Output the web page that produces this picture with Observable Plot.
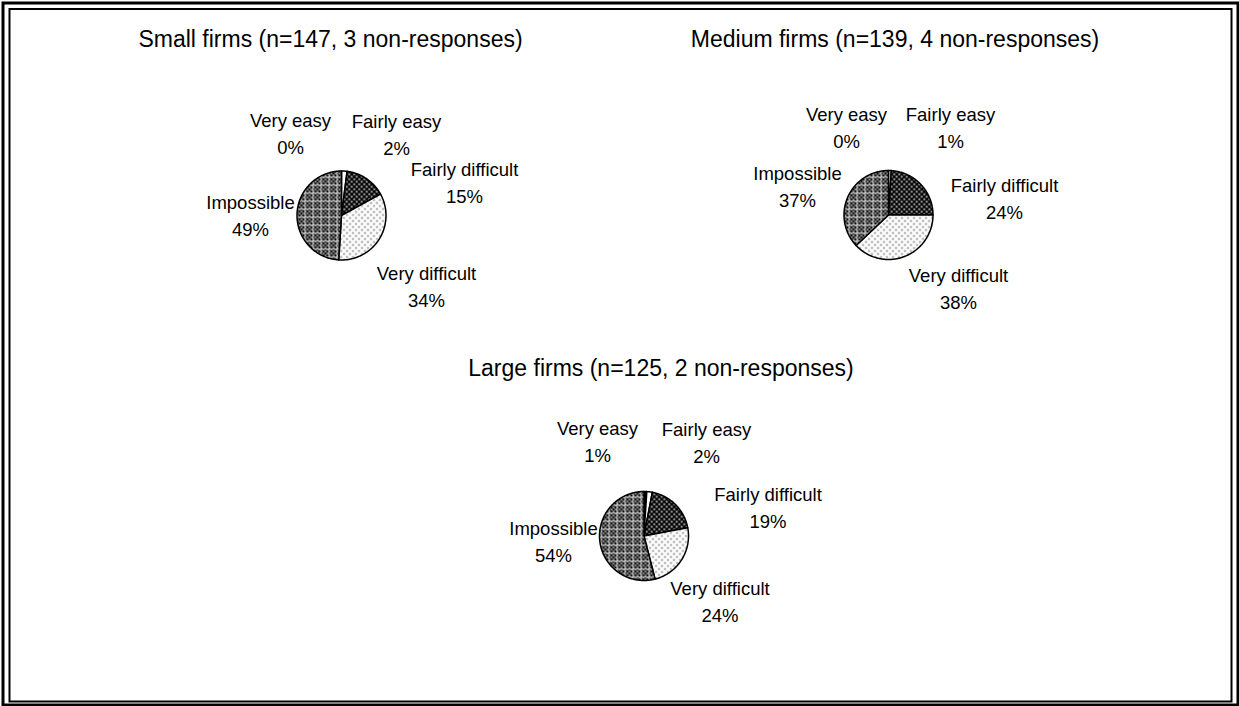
<!DOCTYPE html>
<html>
<head>
<meta charset="utf-8">
<script src="https://cdn.jsdelivr.net/npm/d3@7"></script>
<script src="https://cdn.jsdelivr.net/npm/@observablehq/plot@0.6"></script>
<style>
  html, body { margin: 0; padding: 0; background: #fff; }
  svg { display: block; }
</style>
</head>
<body>
<div id="chart"></div>
<script>
// Ease of recruitment, by firm size (share of responses)
const categories = ["Very easy", "Fairly easy", "Fairly difficult", "Very difficult", "Impossible"];
const smallFirms  = [0, 2, 15, 34, 49];
const mediumFirms = [0, 1, 24, 38, 37];
const largeFirms  = [1, 2, 19, 24, 54];
const panelTitles = [
  "Small firms (n=147, 3 non-responses)",
  "Medium firms (n=139, 4 non-responses)",
  "Large firms (n=125, 2 non-responses)"
];

// Page layout (pixels): pie centres, title anchors and label offsets from each pie centre
const W = 1239, H = 706;
const pieRadius = 44.5;
const pieCenters = [[341, 215], [888, 214.5], [643.5, 535.5]];
const titleAnchors = [[330, 39], [894.5, 39], [660.5, 368]];
const labelOffsets = [
  [[-51, -83.5], [55, -82.5], [123, -34.5], [85, 69], [-91, -2]],
  [[-42, -89], [62, -89], [116, -18], [70, 72], [-91, -30.5]],
  [[-46.5, -96], [62.5, -95.5], [124, -30], [76, 64], [-90.5, 4]]
];

// Slice fills (patterns are defined below in <defs>)
const sliceFills = ["#000", "#fff", "url(#pat-fd)", "url(#pat-vd)", "url(#pat-im)"];

const panels = [smallFirms, mediumFirms, largeFirms].map((values, p) => ({
  values, title: panelTitles[p], cx: pieCenters[p][0], cy: pieCenters[p][1]
}));

// Build slice outlines: start at 12 o'clock, clockwise
const slicePoints = [];
const labels = [];
panels.forEach((panel, p) => {
  const total = d3.sum(panel.values);
  let acc = 0;
  panel.values.forEach((v, i) => {
    const a0 = acc / total * 2 * Math.PI;
    acc += v;
    const a1 = acc / total * 2 * Math.PI;
    const key = p + "-" + i;
    if (v > 0) {
      slicePoints.push({key, category: categories[i], x: panel.cx, y: panel.cy});
      const steps = Math.max(2, Math.ceil((a1 - a0) / (Math.PI / 180)));
      for (let s = 0; s <= steps; s++) {
        const a = a0 + (a1 - a0) * s / steps;
        slicePoints.push({
          key, category: categories[i],
          x: panel.cx + pieRadius * Math.sin(a),
          y: panel.cy - pieRadius * Math.cos(a)
        });
      }
    }
    labels.push({
      text: categories[i] + "\n" + v + "%",
      x: panel.cx + labelOffsets[p][i][0],
      y: panel.cy + labelOffsets[p][i][1]
    });
  });
});

const titles = panels.map((panel, p) => ({
  text: panel.title, x: titleAnchors[p][0], y: titleAnchors[p][1]
}));

const chart = Plot.plot({
  width: W,
  height: H,
  margin: 0,
  x: {domain: [0, W], range: [0, W], axis: null},
  y: {domain: [0, H], range: [0, H], axis: null},
  style: {fontFamily: "'Liberation Sans', Arial, sans-serif", background: "#fff", color: "#000"},
  marks: [
    // double page border
    Plot.frame({insetLeft: 2.5, insetTop: 2.5, insetRight: 1.5, insetBottom: 1.5, stroke: "#000", strokeWidth: 3}),
    Plot.frame({insetLeft: 9, insetTop: 8.5, insetRight: 8, insetBottom: 5, stroke: "#000", strokeWidth: 2}),
    ...categories.map((c, i) =>
      Plot.line(slicePoints.filter(d => d.category === c), {
        x: "x", y: "y", z: "key",
        curve: "linear-closed",
        fill: sliceFills[i],
        stroke: "#000", strokeWidth: 1.5, strokeLinejoin: "round"
      })
    ),
    Plot.text(titles, {x: "x", y: "y", text: "text", fontSize: 23, fill: "#000"}),
    Plot.text(labels, {x: "x", y: "y", text: "text", fontSize: 18.5, lineHeight: 1.46, fill: "#000"})
  ]
});

// Fill patterns for the slices
function checker() {
  let s = '<rect width="8" height="8" fill="#8a8a8a"/>';
  for (let i = 0; i < 4; i++) for (let j = 0; j < 4; j++)
    if ((i + j) % 2 === 0) s += `<rect x="${2 * i}" y="${2 * j}" width="2" height="2" fill="#111"/>`;
  s += '<rect x="0" y="0" width="8" height="1" fill="#cfcfcf"/><rect x="0" y="0" width="1" height="8" fill="#cfcfcf"/>';
  return s;
}
const defs = `
  <pattern id="pat-fd" width="5" height="5" patternUnits="userSpaceOnUse">
    <rect width="5" height="5" fill="#000"/>
    <circle cx="1.25" cy="1.25" r="1" fill="#d4d4d4"/>
    <circle cx="3.75" cy="3.75" r="1" fill="#d4d4d4"/>
  </pattern>
  <pattern id="pat-vd" width="6" height="6" patternUnits="userSpaceOnUse">
    <rect width="6" height="6" fill="#fff"/>
    <circle cx="1.5" cy="1.5" r="0.95" fill="#7a7a7a"/>
    <circle cx="4.5" cy="4.5" r="0.95" fill="#7a7a7a"/>
  </pattern>
  <pattern id="pat-im" width="8" height="8" patternUnits="userSpaceOnUse">${checker()}</pattern>`;
d3.select(chart).insert("defs", ":first-child").html(defs);

document.getElementById("chart").appendChild(chart);
</script>
</body>
</html>
